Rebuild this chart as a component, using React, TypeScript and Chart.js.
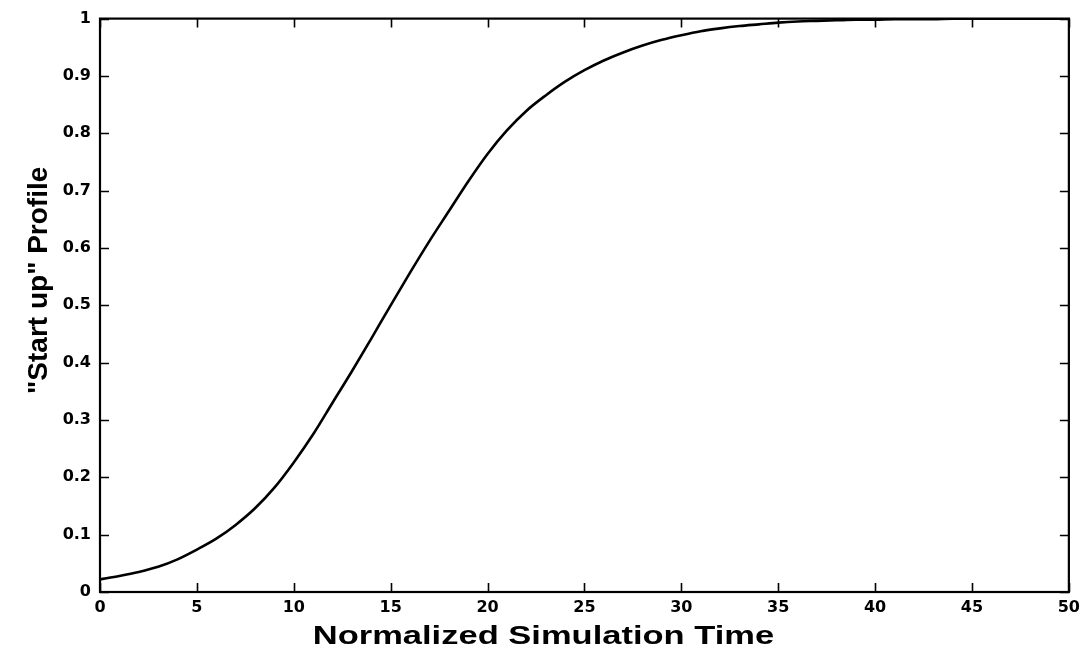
import React, { useEffect, useRef } from "react";
import { Chart, registerables } from "chart.js";

Chart.register(...registerables);

const timeValues: number[] = [
  0, 1, 2, 3, 4, 5, 6, 7, 8, 9, 10, 11, 12, 13, 14, 15, 16, 17, 18, 19, 20,
  21, 22, 23, 24, 25, 26, 27, 28, 29, 30, 31, 32, 33, 34, 35, 36, 37, 38, 39,
  40, 41, 42, 43, 44, 45, 46, 47, 48, 49, 50,
];
const profileValues: number[] = [
  0.022, 0.028, 0.035, 0.044, 0.057, 0.074, 0.093, 0.117, 0.146, 0.182, 0.226,
  0.275, 0.33, 0.385, 0.442, 0.5, 0.557, 0.612, 0.664, 0.716, 0.764, 0.805,
  0.839, 0.866, 0.89, 0.91, 0.927, 0.941, 0.953, 0.963, 0.971, 0.978, 0.983,
  0.987, 0.99, 0.993, 0.995, 0.996, 0.997, 0.998, 0.998, 0.999, 0.999, 0.999,
  1.0, 1.0, 1.0, 1.0, 1.0, 1.0, 1.0,
];
const xTicks: number[] = [0, 5, 10, 15, 20, 25, 30, 35, 40, 45, 50];
const yTicks: number[] = [0, 0.1, 0.2, 0.3, 0.4, 0.5, 0.6, 0.7, 0.8, 0.9, 1];
const xTitle = "Normalized Simulation Time";
const yTitle = '"Start up" Profile';

const boxTicksPlugin = {
  id: "boxTicks",
  afterDraw(chart: any) {
    const { ctx, chartArea } = chart;
    const { left, right, top, bottom } = chartArea;
    const xs = chart.scales.x;
    const ys = chart.scales.y;
    const len = 9;
    ctx.save();
    ctx.strokeStyle = "#000";
    ctx.lineWidth = 1.6;
    ctx.beginPath();
    xTicks.forEach((v) => {
      const px = Math.round(xs.getPixelForValue(v)) + 0.5;
      ctx.moveTo(px, bottom);
      ctx.lineTo(px, bottom - len);
      ctx.moveTo(px, top);
      ctx.lineTo(px, top + len);
    });
    yTicks.forEach((v) => {
      const py = Math.round(ys.getPixelForValue(v)) + 0.5;
      ctx.moveTo(left, py);
      ctx.lineTo(left + len, py);
      ctx.moveTo(right, py);
      ctx.lineTo(right - len, py);
    });
    ctx.stroke();
    ctx.lineWidth = 2.2;
    ctx.strokeRect(left, top, right - left, bottom - top);

    // axis titles
    ctx.fillStyle = "#000";
    // x title (wide bold face)
    ctx.save();
    ctx.font = "bold 25px 'Liberation Sans'";
    ctx.textAlign = "center";
    ctx.textBaseline = "alphabetic";
    const xCenter = (left + right) / 2 - 41;
    ctx.translate(xCenter, bottom + 52);
    ctx.scale(1.38, 1);
    ctx.fillText(xTitle, 0, 0);
    ctx.restore();
    // y title
    ctx.save();
    ctx.font = "bold 28px 'Liberation Sans'";
    ctx.textAlign = "center";
    ctx.textBaseline = "alphabetic";
    ctx.translate(left - 53, (top + bottom) / 2 - 25);
    ctx.rotate(-Math.PI / 2);
    ctx.fillText(yTitle, 0, 0);
    ctx.restore();

    ctx.restore();
  },
};

export default function App() {
  const canvasRef = useRef<HTMLCanvasElement | null>(null);

  useEffect(() => {
    const canvas = canvasRef.current;
    if (!canvas) return;
    const data = timeValues.map((t, i) => ({ x: t, y: profileValues[i] }));
    const tickFont = { family: "DejaVu Sans", size: 16, weight: "bold" as const };
    const chart = new Chart(canvas, {
      type: "line",
      data: {
        datasets: [
          {
            data,
            borderColor: "#000",
            borderWidth: 2.6,
            pointRadius: 0,
            fill: false,
            cubicInterpolationMode: "monotone",
          },
        ],
      },
      options: {
        responsive: false,
        animation: false,
        plugins: { legend: { display: false }, tooltip: { enabled: false } },
        layout: { padding: { left: 0, right: 16, top: 15, bottom: 0 } },
        scales: {
          x: {
            type: "linear",
            min: 0,
            max: 50,
            afterBuildTicks(scale: any) {
              scale.ticks = xTicks.map((v) => ({ value: v }));
            },
            ticks: {
              padding: 6,
              color: "#000",
              maxRotation: 0,
              autoSkip: false,
              font: tickFont,
              callback: (v: any) => String(v),
            },
            grid: { display: false, drawTicks: false },
            border: { display: false },
            title: { display: false },
            afterFit(scale: any) {
              scale.height = 59;
            },
          },
          y: {
            type: "linear",
            min: 0,
            max: 1,
            afterBuildTicks(scale: any) {
              scale.ticks = yTicks.map((v) => ({ value: v }));
            },
            ticks: {
              padding: 9,
              color: "#000",
              autoSkip: false,
              font: tickFont,
              callback: (v: any) => String(Number(Number(v).toFixed(1))),
            },
            grid: { display: false, drawTicks: false },
            border: { display: false },
            title: { display: false },
            afterFit(scale: any) {
              scale.width = 100;
            },
          },
        },
      },
      plugins: [boxTicksPlugin],
    });
    return () => chart.destroy();
  }, []);

  return (
    <div style={{ position: "fixed", left: 0, top: 0, width: 1086, height: 651, background: "#fff" }}>
      <canvas ref={canvasRef} width={1086} height={651} style={{ display: "block" }} />
    </div>
  );
}
